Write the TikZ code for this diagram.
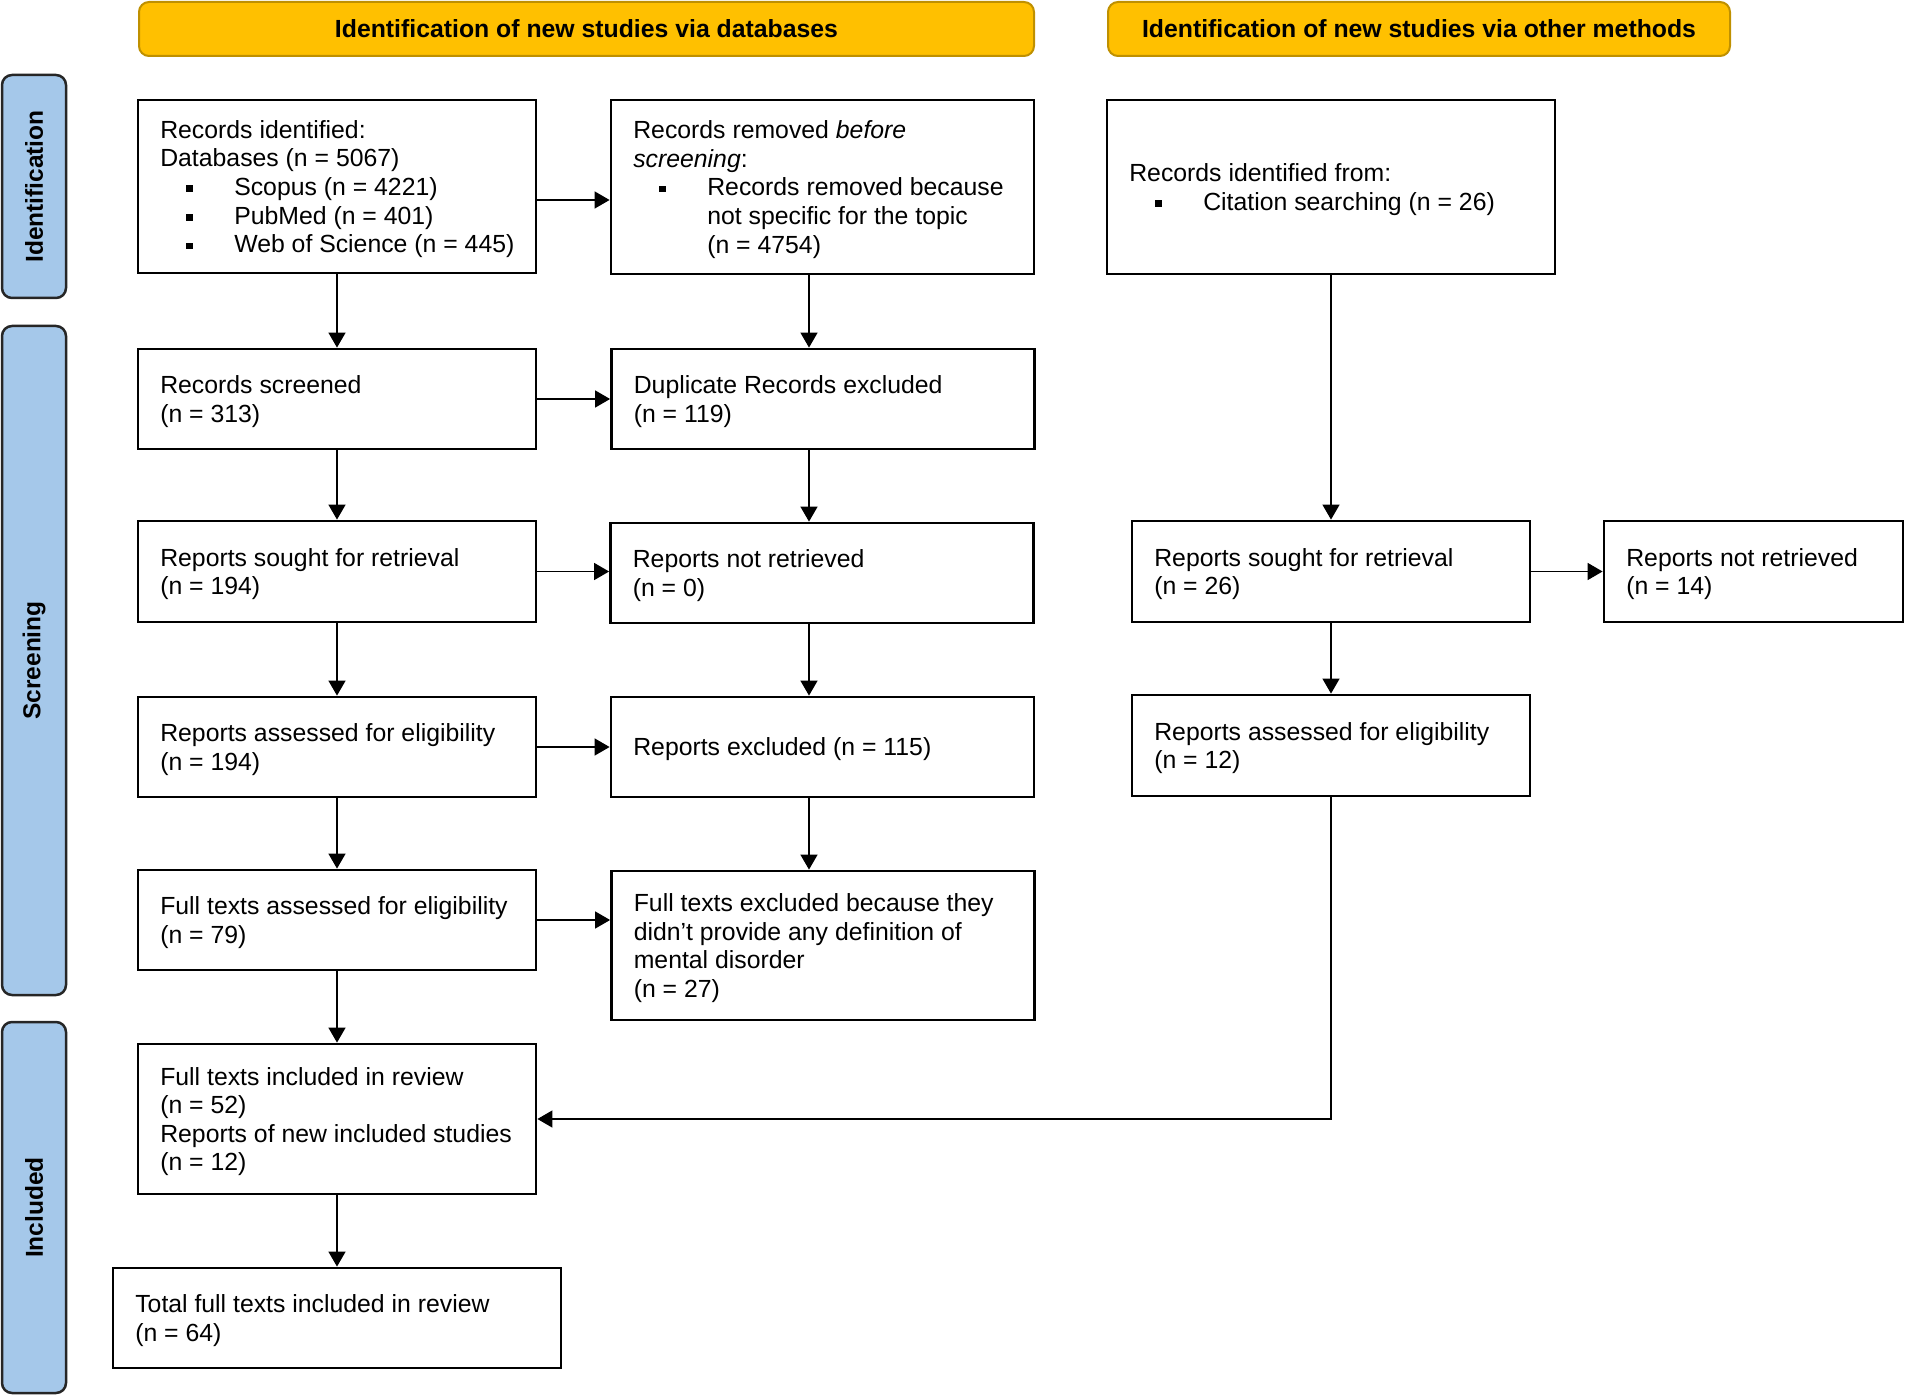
\documentclass[tikz,border=0pt]{standalone}
\usepackage{fontspec}
\setmainfont{Liberation Sans}
\usetikzlibrary{arrows.meta,calc}
\definecolor{gold}{HTML}{FFC000}
\definecolor{golddark}{HTML}{BF9000}
\definecolor{sideblue}{HTML}{A5C8EA}
\newcommand\bul{\makebox[74pt][l]{\hspace*{26pt}\rule[3.5pt]{6.5pt}{6.5pt}}}
\newcommand\ind{\hspace*{74pt}}
% name, cx, cy, w, h, text
\newcommand\pbox[6]{%
  \node[box, minimum width=#4pt, minimum height=#5pt] (#1) at (#2,#3) {};
  \node[txt] (#1t) at ($(#1.west)+(23.5,2.5)$) {#6};}
\begin{document}
\begin{tikzpicture}[x=1pt,y=-1pt,
  every node/.style={font=\fontsize{24.8}{28.6}\selectfont},
  box/.style={draw=black, line width=2.8pt, fill=white, inner sep=0pt},
  txt/.style={anchor=west, align=left, inner sep=0pt},
  hdr/.style={draw=golddark, fill=gold, line width=2pt, rounded corners=10pt, font=\fontsize{24.8}{28.6}\selectfont\bfseries, minimum height=54pt},
  side/.style={draw=black!85, fill=sideblue, line width=2.5pt, rounded corners=10pt, rotate=90, minimum height=64pt, font=\fontsize{24.5}{28}\selectfont\bfseries},
  conn/.style={line width=1.4pt, -{Triangle[length=15pt,width=17pt]}}
]
\useasboundingbox (0,0) rectangle (1908,1396);

% headers
\node[hdr, minimum width=895pt] (h1) at (586.5,29) {Identification of new studies via databases};
\node[hdr, minimum width=622pt] (h2) at (1419,29) {Identification of new studies via other methods};

% side bars
\node[side, minimum width=223pt] (s1) at (34,186.5) {Identification};
\node[side, minimum width=669pt] (s2) at (34,660.5) {Screening};
\node[side, minimum width=371pt] (s3) at (34,1207.5) {Included};

% column 1
\pbox{A}{337}{186.5}{398}{173}{Records identified:\\Databases (n = 5067)\\\bul Scopus (n = 4221)\\\bul PubMed (n = 401)\\\bul Web of Science (n = 445)}
\pbox{D}{337}{399}{398}{100}{Records screened\\(n = 313)}
\pbox{F}{337}{571.5}{398}{101}{Reports sought for retrieval\\(n = 194)}
\pbox{J}{337}{747}{398}{100}{Reports assessed for eligibility\\(n = 194)}
\pbox{M}{337}{920}{398}{100}{Full texts assessed for eligibility\\(n = 79)}
\pbox{O}{337}{1119}{398}{150}{Full texts included in review\\(n = 52)\\Reports of new included studies\\(n = 12)}
\pbox{P}{337}{1318}{448}{100}{Total full texts included in review\\(n = 64)}

% column 2
\pbox{B}{822.5}{187}{423}{174}{Records removed \textit{before}\\\textit{screening}:\\\bul Records removed because\\\ind not specific for the topic\\\ind (n = 4754)}
\pbox{E}{823}{399}{423}{100}{Duplicate Records excluded\\(n = 119)}
\pbox{G}{822}{573}{423}{100}{Reports not retrieved\\(n = 0)}
\pbox{K}{822.5}{747}{423}{100}{Reports excluded (n = 115)}
\pbox{N}{823}{945.5}{423}{149}{Full texts excluded because they\\didn’t provide any definition of\\mental disorder\\(n = 27)}

% other methods
\pbox{C}{1331}{187}{448}{174}{Records identified from:\\\bul Citation searching (n = 26)}
\pbox{H}{1331}{571.5}{398}{101}{Reports sought for retrieval\\(n = 26)}
\pbox{I}{1753.5}{571.5}{299}{101}{Reports not retrieved\\(n = 14)}
\pbox{L}{1331}{745.5}{398}{101}{Reports assessed for eligibility\\(n = 12)}

\coordinate (c2) at (809,0);
\coordinate (r1) at (0,200);

% vertical connectors col 1
\draw[conn] (A) -- (D);
\draw[conn] (D) -- (F);
\draw[conn] (F) -- (J);
\draw[conn] (J) -- (M);
\draw[conn] (M) -- (O);
\draw[conn] (O) -- (P);
% vertical connectors col 2
\draw[conn] (B.south -| c2) -- (E.north -| c2);
\draw[conn] (E.south -| c2) -- (G.north -| c2);
\draw[conn] (G.south -| c2) -- (K.north -| c2);
\draw[conn] (K.south -| c2) -- (N.north -| c2);
% horizontal connectors
\draw[conn] (A.east |- r1) -- (B.west |- r1);
\draw[conn] (D.east) -- (D.east -| E.west);
\draw[conn] (F.east) -- (F.east -| G.west);
\draw[conn] (J.east) -- (J.east -| K.west);
\draw[conn] (M.east) -- (M.east -| N.west);
% other methods
\draw[conn] (C) -- (H);
\draw[conn] (H) -- (L);
\draw[conn] (H.east) -- (H.east -| I.west);
\draw[conn] (L.south) |- (O.east);
\end{tikzpicture}
\end{document}
